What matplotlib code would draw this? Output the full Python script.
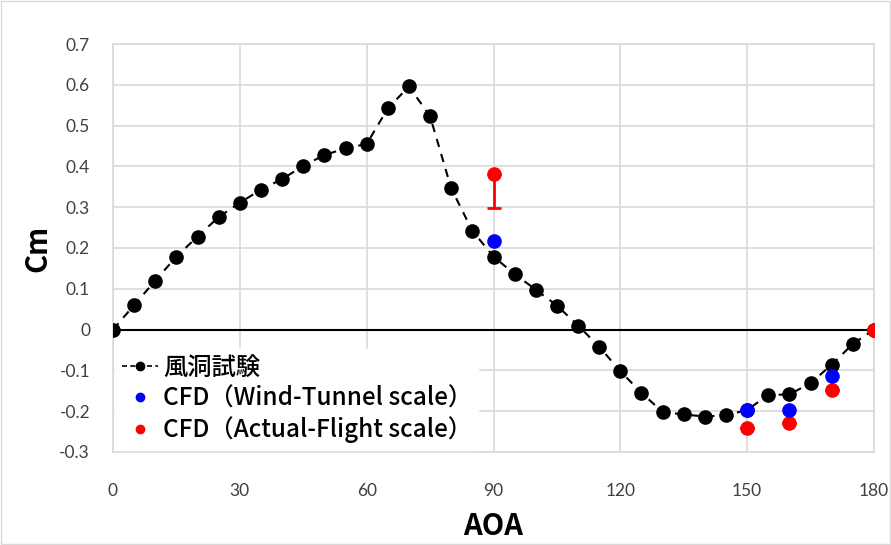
import matplotlib
matplotlib.use("Agg")
import matplotlib.pyplot as plt
from matplotlib.lines import Line2D

aoa = [0, 5, 10, 15, 20, 25, 30, 35, 40, 45, 50, 55, 60, 65, 70, 75, 80, 85, 90,
       95, 100, 105, 110, 115, 120, 125, 130, 135, 140, 145, 150, 155, 160, 165,
       170, 175, 180]
cm_wind = [0.0, 0.06, 0.12, 0.179, 0.228, 0.276, 0.311, 0.343, 0.369, 0.401, 0.428,
           0.444, 0.455, 0.542, 0.596, 0.523, 0.346, 0.242, 0.179, 0.136, 0.098,
           0.059, 0.01, -0.042, -0.102, -0.155, -0.202, -0.208, -0.213, -0.21,
           -0.197, -0.16, -0.159, -0.131, -0.086, -0.035, 0.0]

cfd_wt_aoa = [90, 150, 160, 170]
cfd_wt_cm = [0.216, -0.196, -0.196, -0.114]

cfd_af_aoa = [90, 150, 160, 170, 180]
cfd_af_cm = [0.381, -0.24, -0.228, -0.148, 0.0]
cfd_af_err_low = [0.082, 0, 0, 0, 0]

xticks = [0, 30, 60, 90, 120, 150, 180]
yticks = [-0.3, -0.2, -0.1, 0, 0.1, 0.2, 0.3, 0.4, 0.5, 0.6, 0.7]
ytick_labels = ['-0.3', '-0.2', '-0.1', '0', '0.1', '0.2', '0.3', '0.4', '0.5', '0.6', '0.7']
legend_labels = ['風洞試験', 'CFD（Wind-Tunnel scale）', 'CFD（Actual-Flight scale）']

tick_font = 'Lato'
cjk = ['Noto Sans CJK JP', 'DejaVu Sans']

fig = plt.figure(figsize=(8.91, 5.45), dpi=100)
ax = fig.add_axes([113/891, 1 - 452/545, (874-113)/891, (452-44)/545])

ax.set_xlim(0, 180)
ax.set_ylim(-0.3, 0.7)
ax.set_xticks(xticks)
ax.set_yticks(yticks)
ax.set_yticklabels(ytick_labels)
ax.grid(True, color='#d9d9d9', linewidth=1.2)
ax.set_axisbelow(True)
for s in ax.spines.values():
    s.set_color('#d9d9d9')
    s.set_linewidth(1.2)
ax.tick_params(length=0, labelsize=12.5, colors='#404040')
ax.tick_params(axis='x', pad=22)
ax.tick_params(axis='y', pad=16.5)
for lab in ax.get_xticklabels() + ax.get_yticklabels():
    lab.set_fontfamily(tick_font)

ax.axhline(0, color='black', linewidth=1.5, zorder=2)

ax.plot(aoa, cm_wind, linestyle=(0, (4, 3.5)), color='black', linewidth=1.5,
        marker='o', markersize=9.5, zorder=3)
ax.errorbar(cfd_af_aoa, cfd_af_cm, yerr=[cfd_af_err_low, [0]*5], fmt='o',
            color='red', markersize=9.5, ecolor='red', elinewidth=2, capsize=5,
            capthick=2, zorder=4)
ax.plot(cfd_wt_aoa, cfd_wt_cm, 'o', color='blue', markersize=9.5, zorder=5)

h = [Line2D([], [], linestyle=(0, (3, 2)), color='black', marker='o', markersize=6, linewidth=1.2),
     Line2D([], [], linestyle='none', color='blue', marker='o', markersize=6),
     Line2D([], [], linestyle='none', color='red', marker='o', markersize=6)]
leg = ax.legend(h, legend_labels, loc='lower left',
                bbox_to_anchor=(0.0, 0.0), frameon=True, framealpha=1,
                edgecolor='white', fancybox=False,
                prop={'family': cjk, 'size': 17.5, 'weight': 'medium'},
                handlelength=1.5, handletextpad=0.2, labelspacing=0.2,
                borderaxespad=0.1, borderpad=0.25)
leg.set_zorder(6)

ax.set_xlabel('AOA', fontsize=21, fontweight='bold', family=cjk)
ax.set_ylabel('Cm', fontsize=21, fontweight='bold', family=cjk)
ax.xaxis.set_label_coords(0.5, (452 - 511) / 408)
ax.yaxis.set_label_coords((52 - 113) / 761, 0.5)

fig.patches.append(plt.Rectangle((0.001, 0.001), 0.998, 0.998, transform=fig.transFigure,
                                 fill=False, edgecolor='#d9d9d9', linewidth=1))

fig.savefig('out.png', dpi=100)
